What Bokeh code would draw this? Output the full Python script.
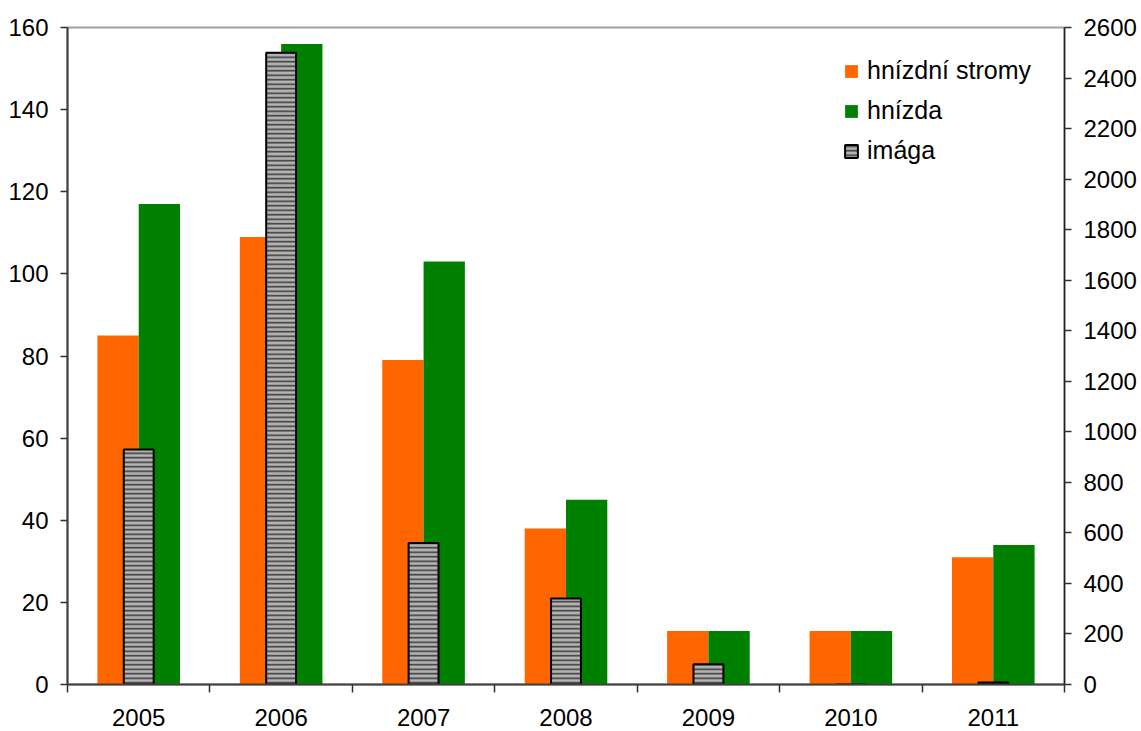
from bokeh.plotting import figure
from bokeh.models import (Range1d, LinearAxis, FixedTicker, ColumnDataSource,
                          Legend, LegendItem)
from bokeh.embed import file_html
from bokeh.resources import INLINE

years = ["2005", "2006", "2007", "2008", "2009", "2010", "2011"]
hnizdni_stromy = [85, 109, 79, 38, 13, 13, 31]
hnizda = [117, 156, 103, 45, 13, 13, 34]
imaga = [930, 2500, 560, 340, 80, 0, 8]

left_ticks = list(range(0, 161, 20))
right_ticks = list(range(0, 2601, 200))

FONT = "Liberation Sans"
FS = "24px"

xc = [i + 0.5 for i in range(len(years))]
src = ColumnDataSource(dict(
    x=xc,
    x_or=[x - 0.145 for x in xc],
    x_gr=[x + 0.145 for x in xc],
    stromy=hnizdni_stromy,
    hnizda=hnizda,
    imaga=imaga,
))

p = figure(width=1141, height=731, output_backend="svg", toolbar_location=None,
           x_range=Range1d(0, len(years)), y_range=Range1d(0, 160),
           min_border_left=67, min_border_right=77, min_border_top=27,
           min_border_bottom=47, x_axis_type=None, y_axis_type=None)
p.grid.visible = False
p.outline_line_color = "#a0a0a0"
p.outline_line_width = 2
p.background_fill_color = "white"
p.border_fill_color = "white"

p.extra_y_ranges = {"right": Range1d(0, 2600)}

r1 = p.vbar(x="x_or", width=0.29, top="stromy", bottom=0, source=src,
            fill_color="#FF6600", line_color=None)
r2 = p.vbar(x="x_gr", width=0.29, top="hnizda", bottom=0, source=src,
            fill_color="#008000", line_color=None)
r3 = p.vbar(x="x", width=0.21, top="imaga", bottom=0, source=src,
            y_range_name="right", fill_color="#b4b4b4",
            hatch_pattern="horizontal_line", hatch_color="#3c3c3c",
            hatch_scale=4.5, hatch_weight=1.6,
            line_color="black", line_width=2)

ya = LinearAxis(ticker=FixedTicker(ticks=left_ticks))
yb = LinearAxis(y_range_name="right", ticker=FixedTicker(ticks=right_ticks))
xa = LinearAxis(ticker=FixedTicker(ticks=xc, minor_ticks=list(range(len(years) + 1))),
                major_label_overrides={x: y for x, y in zip(xc, years)})

for ax in (ya, yb, xa):
    ax.major_label_text_font = FONT
    ax.major_label_text_font_size = FS
    ax.major_label_text_color = "black"
    ax.axis_line_width = 2
    ax.axis_line_color = "#404040"
    ax.major_tick_line_color = "#303030"
    ax.major_tick_line_width = 1.5
    ax.major_tick_in = 0
    ax.major_tick_out = 7
    ax.minor_tick_line_color = None

yb.axis_line_width = 1.5
yb.axis_line_color = "#202020"
ya.major_label_standoff = 12
yb.major_label_standoff = 12

xa.major_tick_out = 0
xa.major_tick_line_color = None
xa.minor_tick_line_color = "#303030"
xa.minor_tick_line_width = 1.5
xa.minor_tick_in = 0
xa.minor_tick_out = 8
xa.major_label_standoff = 16

p.add_layout(ya, "left")
p.add_layout(yb, "right")
p.add_layout(xa, "below")

legend = Legend(items=[
    LegendItem(label="hnízdní stromy", renderers=[r1]),
    LegendItem(label="hnízda", renderers=[r2]),
    LegendItem(label="imága", renderers=[r3]),
], location=(776, 519))
legend.label_text_font = FONT
legend.label_text_font_size = "25px"
legend.label_text_color = "black"
legend.glyph_width = 16
legend.glyph_height = 16
legend.label_standoff = 8
legend.spacing = 11
legend.padding = 4
legend.border_line_color = None
legend.background_fill_alpha = 0
p.add_layout(legend, "center")

open("out.html", "w").write(file_html(p, INLINE))
